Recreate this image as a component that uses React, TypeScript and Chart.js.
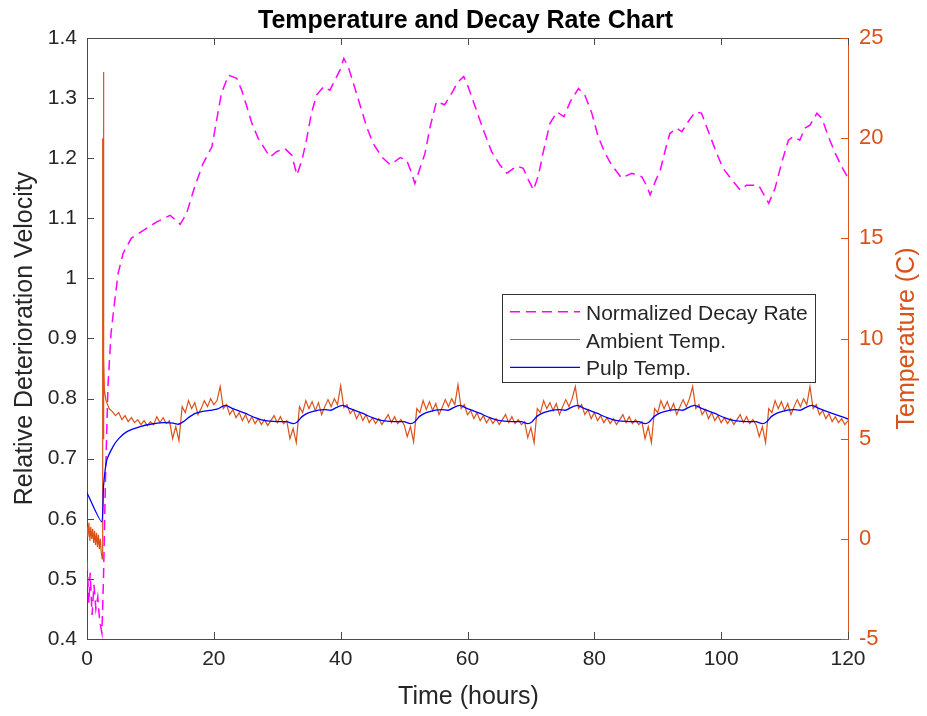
import React, { useEffect, useRef } from "react";
import { Chart, registerables } from "chart.js";

Chart.register(...registerables);

// ---------- text ----------
const chartTitle = "Temperature and Decay Rate Chart";
const xTitle = "Time (hours)";
const leftTitle = "Relative Deterioration Velocity";
const rightTitle = "Temperature (C)";
const seriesNames = ["Normalized Decay Rate", "Ambient Temp.", "Pulp Temp."];

// ---------- ticks ----------
const xTickValues = [0, 20, 40, 60, 80, 100, 120];
const leftTickValues = [0.4, 0.5, 0.6, 0.7, 0.8, 0.9, 1.0, 1.1, 1.2, 1.3, 1.4];
const rightTickValues = [-5, 0, 5, 10, 15, 20, 25];

// ---------- Normalized decay rate (left axis) ----------
const decayHours = [
  0, 0.3, 0.5, 0.8, 1.1, 1.4, 1.7, 2.0, 2.35, 2.6, 2.9, 3.3, 3.8, 4.4, 4.9, 5.7, 7.0, 8.9, 11.0, 13.1,
  14.7, 15.7, 17.0, 18.3, 19.7, 20.4, 21.2, 22.3, 23.6, 24.4, 25.2, 26.0, 27.0, 28.3, 28.9, 29.9, 31.2, 32.3, 33.1, 33.9,
  34.6, 35.4, 36.2, 37.3, 38.3, 39.1, 39.9, 40.5, 41.2, 42.0, 43.3, 44.1, 45.1, 46.5, 47.8, 49.4, 50.4, 51.2, 51.7, 52.5,
  53.3, 54.1, 55.1, 56.4, 57.5, 58.5, 59.4, 60.1, 61.2, 62.5, 63.8, 65.1, 66.2, 67.8, 68.8, 69.6, 70.4, 71.2, 71.9, 73.0,
  74.1, 75.2, 76.2, 77.5, 78.5, 79.6, 80.6, 81.7, 82.7, 84.3, 85.9, 87.5, 88.3, 88.8, 89.6, 90.4, 91.2, 91.9, 93.0, 93.8,
  94.6, 95.9, 96.9, 98.0, 99.3, 100.3, 101.7, 103.0, 104.0, 105.9, 106.6, 107.5, 108.5, 109.5, 110.6, 111.4, 112.4, 113.2, 114.0, 115.1,
  115.9, 116.9, 118.0, 119.0, 120.0,
];
const decayRates = [
  0.53, 0.46, 0.51, 0.44, 0.49, 0.45, 0.47, 0.43, 0.41, 0.5, 0.66, 0.82, 0.91, 0.965, 1.008, 1.042, 1.067, 1.08, 1.094, 1.105,
  1.09, 1.108, 1.153, 1.191, 1.219, 1.261, 1.308, 1.338, 1.333, 1.313, 1.286, 1.258, 1.233, 1.211, 1.202, 1.211, 1.216, 1.205, 1.172, 1.197,
  1.23, 1.275, 1.305, 1.319, 1.313, 1.33, 1.347, 1.366, 1.352, 1.325, 1.28, 1.252, 1.225, 1.202, 1.189, 1.201, 1.197, 1.175, 1.158, 1.183,
  1.208, 1.252, 1.294, 1.289, 1.308, 1.327, 1.336, 1.319, 1.286, 1.247, 1.211, 1.189, 1.175, 1.187, 1.183, 1.164, 1.147, 1.172, 1.208, 1.258,
  1.277, 1.269, 1.294, 1.316, 1.305, 1.275, 1.236, 1.208, 1.189, 1.167, 1.175, 1.169, 1.153, 1.139, 1.161, 1.18, 1.214, 1.241, 1.25, 1.244,
  1.258, 1.277, 1.275, 1.244, 1.208, 1.183, 1.164, 1.147, 1.155, 1.155, 1.142, 1.125, 1.15, 1.191, 1.23, 1.236, 1.23, 1.25, 1.255, 1.275,
  1.266, 1.236, 1.208, 1.186, 1.167,
];

// ---------- Ambient temperature (right axis) ----------
// start-up segment, irregular sample times
const ambientStartHours = [0, 0.15, 0.3, 0.45, 0.6, 0.75, 0.9, 1.05, 1.2, 1.35, 1.5, 1.65, 1.8, 1.95, 2.1, 2.25, 2.4, 2.45, 2.5, 2.55, 2.6, 2.65, 2.75];
const ambientStartTemps = [0.6, 0.1, 0.8, -0.1, 0.6, 0.0, 0.5, -0.2, 0.4, -0.3, 0.3, -0.4, 0.2, -0.5, 0.0, -0.7, -1.0, 2.0, 20.0, 5.0, 23.3, 9.0, 7.4];
// half-hourly samples from hour 3 to hour 120
const ambientGridFirstHour = 3;
const ambientGridStepHours = 0.5;
const ambientGridTemps = [
  // 3.0 - 20.5
  6.9, 6.5, 6.35, 6.15, 6.3, 5.95, 6.15, 5.85, 6.05, 5.8, 5.95, 5.7, 5.9, 5.65, 5.85, 5.7, 6.1, 5.8, 6.05, 5.75,
  5.9, 5.0, 5.6, 4.9, 6.6, 6.3, 6.9, 6.5, 6.8, 6.2, 6.5, 6.9, 6.6, 7.0, 6.7, 6.9,
  // 21.0 - 39.5
  7.6, 6.5, 6.7, 6.2, 6.45, 6.05, 6.3, 5.9, 6.2, 5.8, 6.1, 5.75, 6.0, 5.7, 5.95, 5.65, 5.9, 6.15, 5.8, 6.1,
  5.75, 5.9, 5.0, 5.5, 4.8, 6.6, 6.3, 6.9, 6.5, 6.85, 6.4, 6.8, 6.2, 6.6, 6.95, 6.6, 7.0, 6.7,
  // 40.0 - 58.0
  7.65, 6.55, 6.7, 6.25, 6.45, 6.0, 6.3, 5.9, 6.2, 5.8, 6.05, 5.75, 6.0, 5.7, 5.95, 6.2, 5.8, 6.1, 5.75, 5.95,
  5.7, 5.1, 5.6, 4.85, 6.5, 6.3, 6.9, 6.45, 6.85, 6.4, 6.75, 6.2, 6.55, 6.95, 6.6, 7.0, 6.7,
  // 58.5 - 76.5
  7.7, 6.5, 6.7, 6.2, 6.4, 6.0, 6.3, 5.9, 6.15, 5.8, 6.05, 5.75, 6.0, 5.7, 5.95, 6.2, 5.8, 6.1, 5.75, 5.95,
  5.7, 5.85, 5.05, 5.55, 4.8, 6.5, 6.3, 6.9, 6.5, 6.8, 6.4, 6.75, 6.2, 6.6, 6.95, 6.6, 7.0,
  // 77.0 - 95.0
  7.6, 6.5, 6.7, 6.2, 6.45, 6.0, 6.3, 5.9, 6.15, 5.8, 6.05, 5.75, 6.0, 5.7, 5.95, 6.2, 5.8, 6.1, 5.75, 5.95,
  5.7, 5.85, 5.0, 5.6, 4.8, 6.5, 6.3, 6.9, 6.5, 6.85, 6.4, 6.75, 6.2, 6.6, 6.95, 6.6, 7.0,
  // 95.5 - 113.5
  7.6, 6.5, 6.7, 6.2, 6.45, 6.0, 6.3, 5.9, 6.15, 5.8, 6.05, 5.75, 6.0, 5.7, 5.95, 6.2, 5.8, 6.1, 5.75, 5.95,
  5.7, 5.1, 5.6, 4.8, 6.5, 6.3, 6.9, 6.5, 6.85, 6.4, 6.75, 6.2, 6.6, 6.95, 6.6, 7.0, 6.7,
  // 114.0 - 120.0
  7.6, 6.5, 6.7, 6.2, 6.4, 6.0, 6.25, 5.85, 6.1, 5.8, 6.0, 5.7, 5.9,
];

// ---------- Pulp temperature (right axis) ----------
const pulpHours = [
  0, 2.3, 2.6, 3.1, 4.1, 5.0, 6.3, 8.4, 10.0, 12.0, 13.6, 14.4, 15.2, 16.0, 17.0, 18.1, 19.7, 20.5,
  21.8, 23.0, 24.9, 26.5, 28.1, 30.0, 31.5, 32.5, 33.2, 33.9, 35.0, 36.5, 37.5, 38.5, 39.3,
  40.3, 41.5, 43.4, 45.0, 46.6, 48.5, 50.0, 51.0, 51.7, 52.4, 53.5, 55.0, 56.0, 57.0, 57.8,
  58.8, 60.0, 61.9, 63.5, 65.1, 67.0, 68.5, 69.5, 70.2, 70.9, 72.0, 73.5, 74.5, 75.5, 76.3,
  77.3, 78.5, 80.4, 82.0, 83.6, 85.5, 87.0, 88.0, 88.7, 89.4, 90.5, 92.0, 93.0, 94.0, 94.8,
  95.8, 97.0, 98.9, 100.5, 102.1, 104.0, 105.5, 106.5, 107.2, 107.9, 109.0, 110.5, 111.5, 112.5, 113.3,
  114.3, 115.5, 117.4, 119.0, 120.0,
];
const pulpTemps = [
  2.3, 0.85, 2.6, 3.9, 4.6, 5.0, 5.35, 5.6, 5.72, 5.8, 5.78, 5.72, 5.85, 6.05, 6.25, 6.35, 6.43, 6.47,
  6.66, 6.5, 6.27, 6.05, 5.9, 5.85, 5.85, 5.75, 5.85, 6.1, 6.3, 6.43, 6.45, 6.42, 6.55,
  6.66, 6.5, 6.27, 6.05, 5.9, 5.85, 5.85, 5.75, 5.85, 6.1, 6.3, 6.43, 6.45, 6.42, 6.55,
  6.66, 6.5, 6.27, 6.05, 5.9, 5.85, 5.85, 5.75, 5.85, 6.1, 6.3, 6.43, 6.45, 6.42, 6.55,
  6.66, 6.5, 6.27, 6.05, 5.9, 5.85, 5.85, 5.75, 5.85, 6.1, 6.3, 6.43, 6.45, 6.42, 6.55,
  6.66, 6.5, 6.27, 6.05, 5.9, 5.85, 5.85, 5.75, 5.85, 6.1, 6.3, 6.43, 6.45, 6.42, 6.55,
  6.66, 6.5, 6.27, 6.1, 5.98,
];

// ---------- styles ----------
const FONT = '"Liberation Sans", Arial, Helvetica, sans-serif';
const AXIS_GRAY = "#4a4a4a";
const TEXT_DARK = "#262626";
const ORANGE = "#D95319";
const MAGENTA = "#FF00FF";
const BLUE = "#0000FF";
const CANVAS_W = 911;
const CANVAS_H = 708;

const pairs = (xs: number[], ys: number[]) => xs.map((x, i) => ({ x, y: ys[i] }));

const ambientPoints = [
  ...pairs(ambientStartHours, ambientStartTemps),
  ...ambientGridTemps.map((y, i) => ({ x: ambientGridFirstHour + i * ambientGridStepHours, y })),
];

const decorPlugin = {
  id: "matlabDecor",
  afterDraw(chart: any) {
    const { ctx, chartArea: a, scales } = chart;
    const xs = scales.x;
    const yl = scales.y;
    const yr = scales.y1;
    const tick = 7;
    ctx.save();

    // top border
    ctx.strokeStyle = AXIS_GRAY;
    ctx.lineWidth = 1;
    ctx.beginPath();
    ctx.moveTo(a.left, a.top + 0.5);
    ctx.lineTo(a.right, a.top + 0.5);
    ctx.stroke();

    // x ticks (inward, bottom + top)
    ctx.beginPath();
    xTickValues.forEach((v) => {
      const px = Math.round(xs.getPixelForValue(v)) + 0.5;
      ctx.moveTo(px, a.bottom);
      ctx.lineTo(px, a.bottom - tick);
      ctx.moveTo(px, a.top);
      ctx.lineTo(px, a.top + tick);
    });
    // left ticks
    leftTickValues.forEach((v) => {
      const py = Math.round(yl.getPixelForValue(v)) + 0.5;
      ctx.moveTo(a.left, py);
      ctx.lineTo(a.left + tick, py);
    });
    ctx.stroke();

    // right ticks
    ctx.strokeStyle = ORANGE;
    ctx.beginPath();
    rightTickValues.forEach((v) => {
      const py = Math.round(yr.getPixelForValue(v)) + 0.5;
      ctx.moveTo(a.right, py);
      ctx.lineTo(a.right - tick, py);
    });
    ctx.stroke();

    // title
    const cx = (a.left + a.right) / 2;
    const cy = (a.top + a.bottom) / 2;
    ctx.fillStyle = "#000000";
    ctx.font = `bold 25px ${FONT}`;
    ctx.textAlign = "center";
    ctx.textBaseline = "alphabetic";
    ctx.fillText(chartTitle, cx - 2, 20);

    // x title
    ctx.fillStyle = TEXT_DARK;
    ctx.font = `25px ${FONT}`;
    ctx.fillText(xTitle, cx + 1, 696);

    // left title
    ctx.save();
    ctx.translate(24, cy);
    ctx.rotate(-Math.PI / 2);
    ctx.fillText(leftTitle, 0, 0);
    ctx.restore();

    // right title
    ctx.save();
    ctx.fillStyle = ORANGE;
    ctx.translate(906, cy);
    ctx.rotate(-Math.PI / 2);
    ctx.fillText(rightTitle, 0, 0);
    ctx.restore();

    // legend
    const lx = 494, ly = 286, lw = 313, lh = 88;
    ctx.fillStyle = "#ffffff";
    ctx.fillRect(lx, ly, lw, lh);
    ctx.strokeStyle = "#333333";
    ctx.lineWidth = 1;
    ctx.strokeRect(lx + 0.5, ly + 0.5, lw, lh);
    const rows = [
      { name: seriesNames[0], color: MAGENTA, dash: [10, 6], width: 1.5, y: 303.7 },
      { name: seriesNames[1], color: ORANGE, dash: [], width: 1.2, y: 331.5 },
      { name: seriesNames[2], color: BLUE, dash: [], width: 1.3, y: 359.3 },
    ];
    ctx.font = `21px ${FONT}`;
    ctx.textAlign = "left";
    ctx.textBaseline = "alphabetic";
    rows.forEach((r) => {
      ctx.strokeStyle = r.color;
      ctx.lineWidth = r.width;
      ctx.setLineDash(r.dash);
      ctx.beginPath();
      ctx.moveTo(502, r.y);
      ctx.lineTo(572, r.y);
      ctx.stroke();
      ctx.setLineDash([]);
      ctx.fillStyle = TEXT_DARK;
      ctx.fillText(r.name, 578, r.y + 8);
    });

    ctx.restore();
  },
};

export default function App() {
  const canvasRef = useRef<HTMLCanvasElement | null>(null);

  useEffect(() => {
    document.documentElement.style.overflow = "hidden";
    const canvas = canvasRef.current;
    if (!canvas) return;
    const chart = new Chart(canvas, {
      type: "line",
      data: {
        datasets: [
          {
            label: seriesNames[2],
            data: pairs(pulpHours, pulpTemps),
            yAxisID: "y1",
            borderColor: BLUE,
            borderWidth: 1.3,
            pointRadius: 0,
            tension: 0.2,
            order: 0,
          },
          {
            label: seriesNames[1],
            data: ambientPoints,
            yAxisID: "y1",
            borderColor: ORANGE,
            borderWidth: 1.2,
            pointRadius: 0,
            tension: 0,
            order: 1,
          },
          {
            label: seriesNames[0],
            data: pairs(decayHours, decayRates),
            yAxisID: "y",
            borderColor: MAGENTA,
            borderWidth: 1.5,
            borderDash: [10, 6],
            pointRadius: 0,
            tension: 0,
            order: 2,
          },
        ],
      },
      options: {
        responsive: false,
        devicePixelRatio: 1,
        animation: false,
        layout: { padding: { top: 30, left: 0, right: 0, bottom: 0 } },
        plugins: {
          legend: { display: false },
          title: { display: false },
          tooltip: { enabled: false },
        },
        scales: {
          x: {
            type: "linear",
            min: 0,
            max: 120,
            afterBuildTicks: (s: any) => {
              s.ticks = xTickValues.map((value) => ({ value }));
            },
            ticks: {
              font: { family: FONT, size: 21 },
              color: TEXT_DARK,
              padding: 8,
              maxRotation: 0,
              autoSkip: false,
              callback: (v: any) => String(v),
            },
            grid: { display: false, drawTicks: false },
            border: { display: true, color: AXIS_GRAY, width: 1 },
            afterFit: (s: any) => {
              s.height = CANVAS_H - 631;
            },
          },
          y: {
            type: "linear",
            position: "left",
            min: 0.4,
            max: 1.4,
            afterBuildTicks: (s: any) => {
              s.ticks = leftTickValues.map((value) => ({ value }));
            },
            ticks: {
              font: { family: FONT, size: 21 },
              color: TEXT_DARK,
              padding: 10,
              autoSkip: false,
              callback: (v: any) => String(Number(Number(v).toFixed(1))),
            },
            grid: { display: false, drawTicks: false },
            border: { display: true, color: AXIS_GRAY, width: 1 },
            afterFit: (s: any) => {
              s.width = 79;
            },
          },
          y1: {
            type: "linear",
            position: "right",
            min: -5,
            max: 25,
            afterBuildTicks: (s: any) => {
              s.ticks = rightTickValues.map((value) => ({ value }));
            },
            ticks: {
              font: { family: FONT, size: 22 },
              color: ORANGE,
              padding: 11,
              autoSkip: false,
              callback: (v: any) => String(v),
            },
            grid: { display: false, drawTicks: false },
            border: { display: true, color: ORANGE, width: 1 },
            afterFit: (s: any) => {
              s.width = 71;
            },
          },
        },
      },
      plugins: [decorPlugin],
    } as any);
    return () => chart.destroy();
  }, []);

  return (
    <div style={{ width: CANVAS_W, height: CANVAS_H }}>
      <canvas ref={canvasRef} width={CANVAS_W} height={CANVAS_H} style={{ display: "block" }} />
    </div>
  );
}
